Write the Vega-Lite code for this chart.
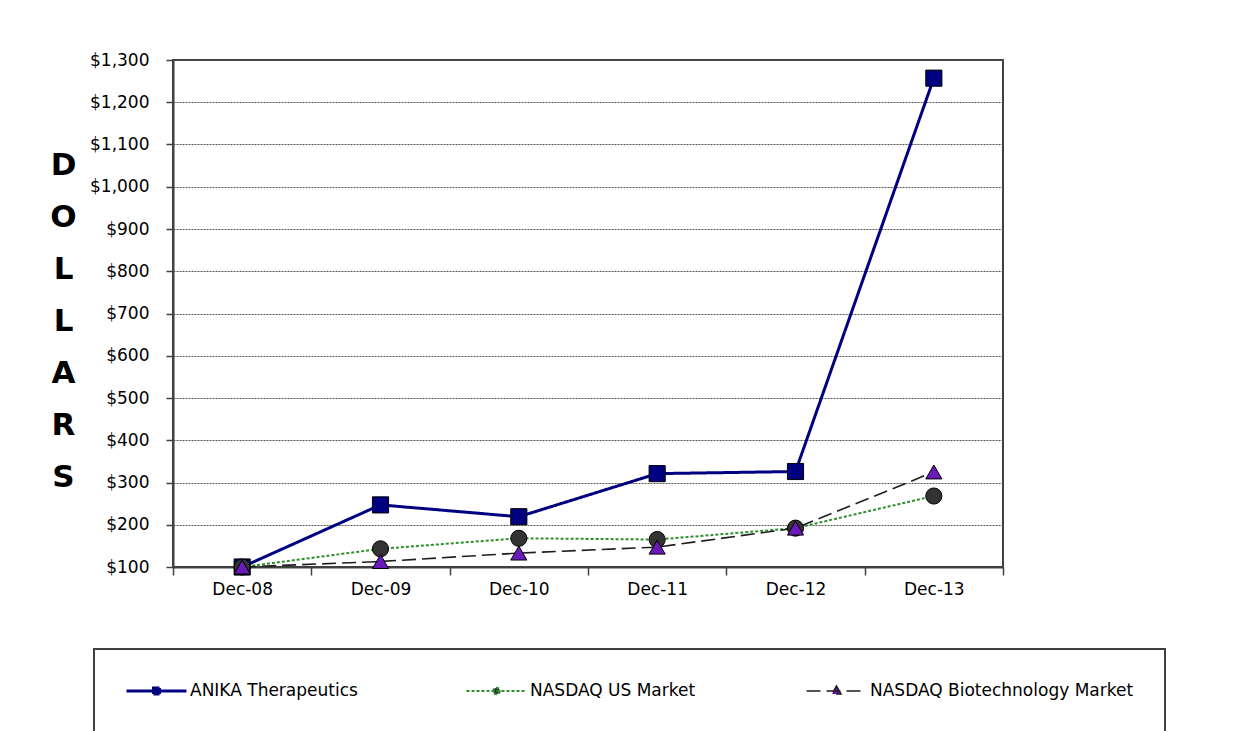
{
  "$schema": "https://vega.github.io/schema/vega-lite/v6.json",
  "width": 830,
  "height": 507,
  "autosize": {"type": "none"},
  "padding": {"left": 173, "top": 60, "right": 252, "bottom": 164},
  "background": "white",
  "config": {
    "font": "DejaVu Sans",
    "view": {"stroke": "#404040", "strokeWidth": 2},
    "axis": {
      "labelFont": "DejaVu Sans",
      "labelFontSize": 17,
      "labelColor": "black",
      "domainColor": "#404040",
      "domainWidth": 2,
      "tickColor": "#404040",
      "tickWidth": 1.5
    }
  },
  "data": {
    "values": [
      {"date": "Dec-08", "series": "ANIKA Therapeutics", "value": 100},
      {"date": "Dec-09", "series": "ANIKA Therapeutics", "value": 247},
      {"date": "Dec-10", "series": "ANIKA Therapeutics", "value": 219},
      {"date": "Dec-11", "series": "ANIKA Therapeutics", "value": 321},
      {"date": "Dec-12", "series": "ANIKA Therapeutics", "value": 326},
      {"date": "Dec-13", "series": "ANIKA Therapeutics", "value": 1257},
      {"date": "Dec-08", "series": "NASDAQ US Market", "value": 100},
      {"date": "Dec-09", "series": "NASDAQ US Market", "value": 143},
      {"date": "Dec-10", "series": "NASDAQ US Market", "value": 168},
      {"date": "Dec-11", "series": "NASDAQ US Market", "value": 165},
      {"date": "Dec-12", "series": "NASDAQ US Market", "value": 192},
      {"date": "Dec-13", "series": "NASDAQ US Market", "value": 268},
      {"date": "Dec-08", "series": "NASDAQ Biotechnology Market", "value": 100},
      {"date": "Dec-09", "series": "NASDAQ Biotechnology Market", "value": 113},
      {"date": "Dec-10", "series": "NASDAQ Biotechnology Market", "value": 133},
      {"date": "Dec-11", "series": "NASDAQ Biotechnology Market", "value": 147},
      {"date": "Dec-12", "series": "NASDAQ Biotechnology Market", "value": 192},
      {"date": "Dec-13", "series": "NASDAQ Biotechnology Market", "value": 325}
    ]
  },
  "encoding": {
    "x": {
      "field": "date",
      "type": "ordinal",
      "sort": null,
      "bandPosition": 0.5,
      "scale": {"type": "band", "paddingInner": 0, "paddingOuter": 0},
      "axis": {
        "title": null,
        "labelAngle": 0,
        "tickBand": "extent",
        "tickSize": 8,
        "labelPadding": 6,
        "grid": false
      }
    },
    "y": {
      "field": "value",
      "type": "quantitative",
      "scale": {"domain": [100, 1300], "nice": false, "zero": false},
      "axis": {
        "title": ["D", "O", "L", "L", "A", "R", "S"],
        "titleAngle": 0,
        "titleFont": "DejaVu Sans",
        "titleFontWeight": "bold",
        "titleFontSize": 31,
        "titleLineHeight": 52,
        "titleColor": "black",
        "titleX": -110,
        "titleY": 90,
        "titleAlign": "center",
        "titleBaseline": "top",
        "values": [100, 200, 300, 400, 500, 600, 700, 800, 900, 1000, 1100, 1200, 1300],
        "format": "$,.0f",
        "tickSize": 7,
        "labelPadding": 17,
        "grid": true,
        "gridDash": [2, 1],
        "gridColor": "#555555",
        "gridWidth": 1
      }
    }
  },
  "layer": [
    {
      "mark": {"type": "line"},
      "encoding": {
        "stroke": {
          "field": "series",
          "type": "nominal",
          "scale": {
            "domain": ["ANIKA Therapeutics", "NASDAQ US Market", "NASDAQ Biotechnology Market"],
            "range": ["#000080", "#2f8f2f", "#1e1e1e"]
          },
          "legend": {
            "title": null,
            "orient": "none",
            "legendX": -79,
            "legendY": 589,
            "direction": "horizontal",
            "columns": 3,
            "columnPadding": 11,
            "gridAlign": "all",
            "symbolType": "stroke",
            "symbolSize": 3600,
            "clipHeight": 22,
            "labelFont": "DejaVu Sans",
            "labelFontSize": 17,
            "labelColor": "black",
            "labelOffset": 2,
            "labelLimit": 400,
            "strokeColor": "#404040",
            "padding": 31,
            "encode": {
              "legend": {"update": {"strokeWidth": {"value": 2}}},
              "symbols": {
                "update": {
                  "shape": {"signal": "datum.value === 'ANIKA Therapeutics' ? 'M-1,0L1,0M-0.1,-0.1L0.1,-0.1L0.1,0.1L-0.1,0.1Z' : datum.value === 'NASDAQ US Market' ? 'M-1,0L1,0M0.11,0L0.095,0.055L0.055,0.095L0,0.11L-0.055,0.095L-0.095,0.055L-0.11,0L-0.095,-0.055L-0.055,-0.095L0,-0.11L0.055,-0.095L0.095,-0.055Z' : 'M-1,0L1,0M0,-0.16L0.15,0.1L-0.15,0.1Z'"},
                  "size": {"value": 3600},
                  "fill": {"signal": "datum.value === 'ANIKA Therapeutics' ? '#000080' : datum.value === 'NASDAQ US Market' ? '#333333' : '#6a1ab8'"},
                  "opacity": {"value": 1}
                }
              }
            }
          }
        },
        "strokeDash": {
          "field": "series",
          "type": "nominal",
          "scale": {
            "domain": ["ANIKA Therapeutics", "NASDAQ US Market", "NASDAQ Biotechnology Market"],
            "range": [[1, 0], [3, 2], [14, 6]]
          }
        },
        "strokeWidth": {
          "field": "series",
          "type": "ordinal",
          "scale": {
            "type": "ordinal",
            "domain": ["ANIKA Therapeutics", "NASDAQ US Market", "NASDAQ Biotechnology Market"],
            "range": [3, 2, 1.6]
          }
        }
      }
    },
    {
      "mark": {"type": "point", "filled": true, "stroke": "black", "strokeWidth": 1, "opacity": 1, "size": 260},
      "encoding": {
        "shape": {
          "field": "series",
          "type": "nominal",
          "scale": {"range": ["square", "triangle-up", "circle"]},
          "legend": null
        },
        "fill": {
          "field": "series",
          "type": "nominal",
          "scale": {"range": ["#000080", "#6a1ab8", "#333333"]},
          "legend": null
        }
      }
    }
  ]
}
